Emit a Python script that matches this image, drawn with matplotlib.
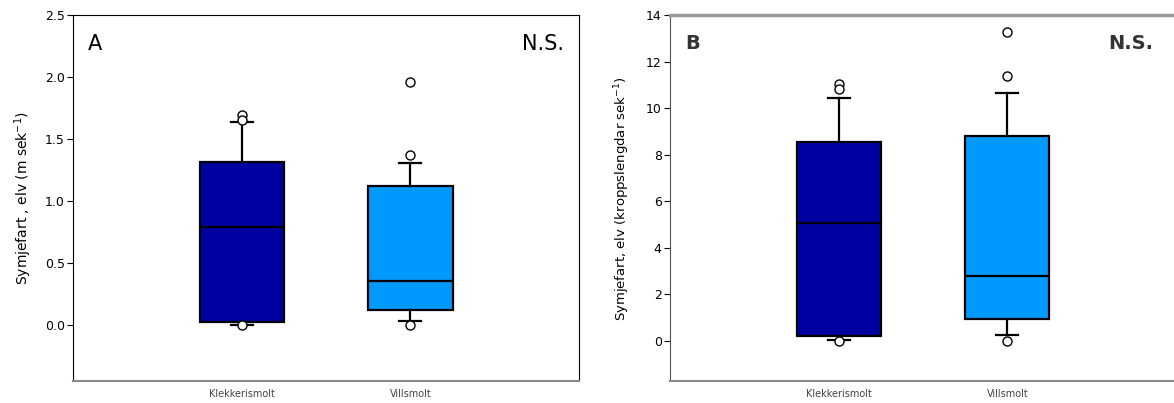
import matplotlib.pyplot as plt
import numpy as np

groups = ['Klekkerismolt', 'Villsmolt']
colors = ['#0000A0', '#0099FF']

# panel A: swimming speed, m/s  (q1, median, q3, lower whisker, upper whisker, outliers)
a_q1 = [0.03, 0.12]
a_med = [0.79, 0.36]
a_q3 = [1.32, 1.12]
a_lo = [0.0, 0.035]
a_hi = [1.64, 1.31]
a_fliers = [[1.70, 1.66, 0.0], [1.37, 1.96, 0.0]]

# panel B: swimming speed, body lengths per second
b_q1 = [0.22, 0.94]
b_med = [5.08, 2.78]
b_q3 = [8.56, 8.80]
b_lo = [0.05, 0.27]
b_hi = [10.46, 10.68]
b_fliers = [[11.05, 10.85, 0.0], [11.4, 13.3, 0.0]]


def make_stats(q1, med, q3, lo, hi, fl):
    out = []
    for i in range(len(q1)):
        out.append(dict(q1=q1[i], med=med[i], q3=q3[i], whislo=lo[i],
                        whishi=hi[i], fliers=fl[i], label=groups[i]))
    return out


def draw(ax, stats):
    bp = ax.bxp(stats, positions=[1, 2], widths=0.5, patch_artist=True,
                showfliers=True, capwidths=0.13,
                boxprops=dict(linewidth=1.6, edgecolor='black'),
                medianprops=dict(color='black', linewidth=1.6),
                whiskerprops=dict(color='black', linewidth=1.6),
                capprops=dict(color='black', linewidth=1.6),
                flierprops=dict(marker='o', markersize=6.5, markerfacecolor='white',
                                markeredgecolor='black', markeredgewidth=1.0))
    for patch, c in zip(bp['boxes'], colors):
        patch.set_facecolor(c)
    ax.set_xlim(0, 3)
    ax.set_xticks([1, 2])
    ax.set_xticklabels(groups, fontsize=7, color='#444444')
    ax.tick_params(axis='x', length=0, pad=6)
    ax.tick_params(axis='y', direction='out', length=4, labelsize=9, pad=2)
    ax.spines['bottom'].set_color('#888888')
    ax.spines['bottom'].set_linewidth(1.5)


fig = plt.figure(figsize=(11.74, 4.03), dpi=100)

axA = fig.add_axes([0.0622, 0.0546, 0.431, 0.907])
draw(axA, make_stats(a_q1, a_med, a_q3, a_lo, a_hi, a_fliers))
axA.set_ylim(-0.45, 2.5)
axA.set_yticks(np.arange(0, 2.51, 0.5))
axA.set_yticklabels(['%.1f' % v for v in np.arange(0, 2.51, 0.5)])
axA.set_ylabel('Symjefart , elv (m sek$^{-1}$)', fontsize=10, labelpad=8)
axA.text(0.03, 0.95, 'A', transform=axA.transAxes, fontsize=15, va='top')
axA.text(0.97, 0.95, 'N.S.', transform=axA.transAxes, fontsize=15, va='top', ha='right')

axB = fig.add_axes([0.5707, 0.0546, 0.431, 0.907])
draw(axB, make_stats(b_q1, b_med, b_q3, b_lo, b_hi, b_fliers))
axB.set_ylim(-1.72, 14)
axB.set_yticks(np.arange(0, 14.1, 2))
axB.set_ylabel('Symjefart, elv (kroppslengdar sek$^{-1}$)', fontsize=9.5, labelpad=10)
axB.spines['top'].set_color('#999999')
axB.spines['top'].set_linewidth(2.5)
axB.spines['left'].set_color('#555555')
axB.text(0.03, 0.95, 'B', transform=axB.transAxes, fontsize=14, va='top',
         fontweight='bold', color='#333333')
axB.text(0.955, 0.95, 'N.S.', transform=axB.transAxes, fontsize=14, va='top',
         ha='right', fontweight='bold', color='#333333')

fig.savefig('out.png', dpi=100)
